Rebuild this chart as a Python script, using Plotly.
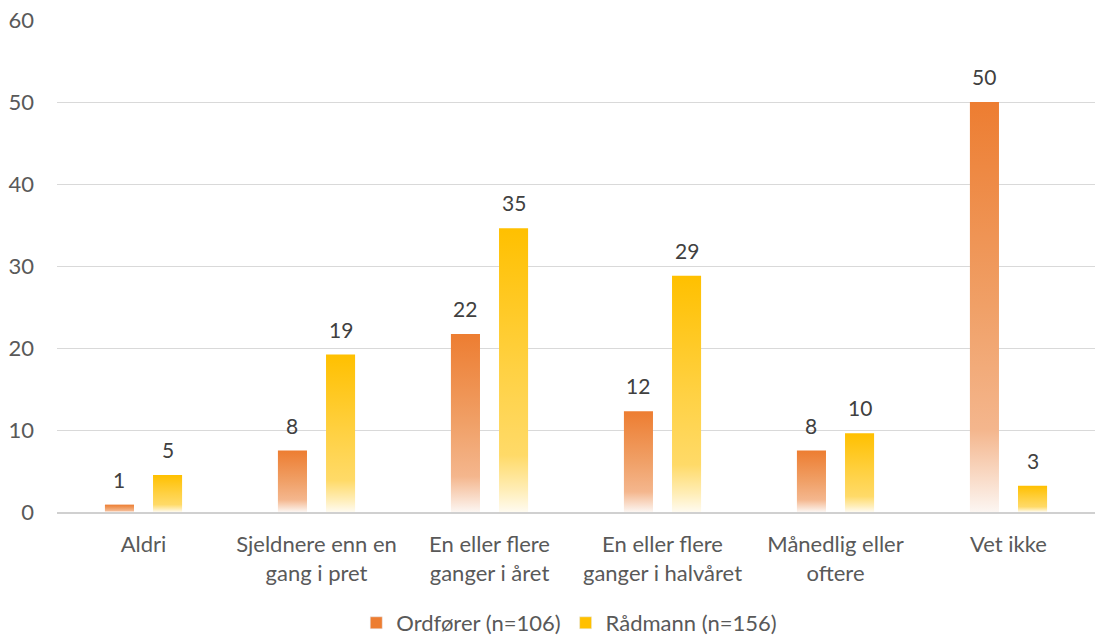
import math
import plotly.graph_objects as go

categories = ["Aldri", "Sjeldnere enn en<br>gang i pret", "En eller flere<br>ganger i året",
              "En eller flere<br>ganger i halvåret", "Månedlig eller<br>oftere", "Vet ikke"]
ordforer = [0.9, 7.5, 21.7, 12.3, 7.5, 50.0]
radmann = [4.5, 19.2, 34.6, 28.8, 9.6, 3.2]
series_names = ["Ordfører (n=106)", "Rådmann (n=156)"]
series_colors = ["#ED7D31", "#FFC000"]
y_ticks = [0, 10, 20, 30, 40, 50, 60]

FONT = "Lato, 'Open Sans', sans-serif"
TXT = "#595959"
FS = 22
half_w = 0.084
offsets = [-0.139, 0.139]

scales = [
    [[0, "#FCF6F2"], [0.08, "#F9DCC9"], [0.2, "#F4B68D"], [0.5, "#F0A067"], [1, "#ED7D31"]],
    [[0, "#FFFBF0"], [0.08, "#FFEDB5"], [0.2, "#FFDA68"], [0.5, "#FFD143"], [1, "#FFC000"]],
]

fig = go.Figure()
for s, (vals, name, col) in enumerate(zip([ordforer, radmann], series_names, series_colors)):
    for i, v in enumerate(vals):
        xc = i + offsets[s]
        fig.add_trace(go.Scatter(
            x=[xc - half_w, xc - half_w, xc + half_w, xc + half_w, xc - half_w],
            y=[0, v, v, 0, 0],
            fill="toself", mode="lines", line=dict(width=0),
            fillcolor=col,
            fillgradient=dict(type="vertical", colorscale=scales[s]),
            name=name, legendgroup=name, showlegend=False,
            hoverinfo="skip",
        ))
        fig.add_annotation(x=xc, y=v, text=str(int(math.floor(v + 0.5))), showarrow=False,
                           yanchor="bottom", yshift=11,
                           font=dict(size=21, color="#404040", family=FONT))
    # legend entry
    fig.add_trace(go.Bar(x=[None], y=[None], name=name, marker=dict(color=col),
                         legendgroup=name, showlegend=True))

fig.update_layout(
    width=1105, height=637,
    margin=dict(l=57, r=10, t=20, b=125),
    paper_bgcolor="white", plot_bgcolor="white",
    font=dict(family=FONT, size=FS, color=TXT),
    showlegend=True,
    legend=dict(orientation="h", x=0.4935, xanchor="center", yref="container", y=0.022,
                yanchor="middle", font=dict(size=FS, color=TXT), tracegroupgap=0,
                itemwidth=30),
    xaxis=dict(range=[-0.5, 5.5], tickvals=list(range(len(categories))), ticktext=categories,
               showgrid=False, zeroline=False, showline=True, linecolor="#D0D0D0", linewidth=1.5,
               ticks="", tickfont=dict(size=FS, color=TXT), fixedrange=True, automargin=False,
               ticklabelstandoff=12),
    yaxis=dict(range=[0, 60], tickvals=y_ticks, showgrid=True, gridcolor="#D9D9D9", gridwidth=1,
               zeroline=False, showline=False, ticks="", tickfont=dict(size=FS, color=TXT),
               ticklabelstandoff=22, fixedrange=True, automargin=False,
               ticklabeloverflow="allow"),
)

fig.write_html("out.html", config={"displayModeBar": False},
               post_script="document.body.style.margin='0';")
